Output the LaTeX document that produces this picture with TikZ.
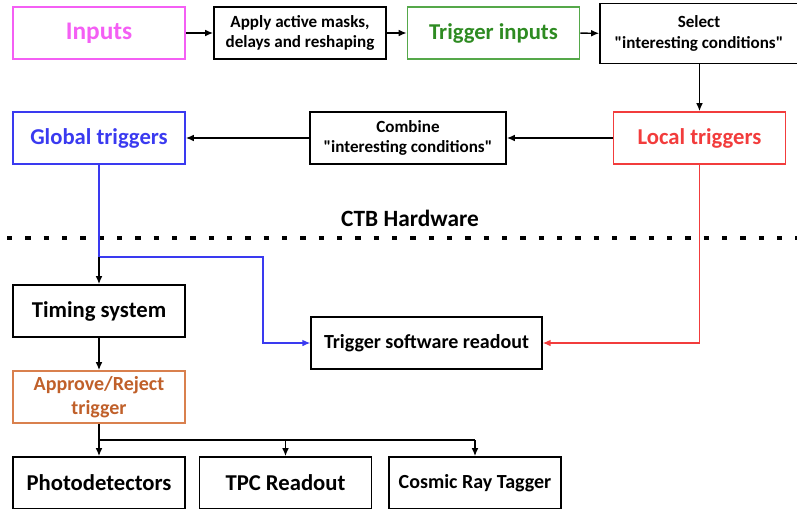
\documentclass[tikz,border=0pt]{standalone}
\usepackage{fontspec}
\setmainfont{Carlito}
\usetikzlibrary{positioning,arrows.meta,calc}
\definecolor{InMag}{HTML}{F45FF4}
\definecolor{InGreen}{HTML}{2E8B22}
\definecolor{BoxGreen}{HTML}{55A84A}
\definecolor{GlBlue}{HTML}{3A3AF0}
\definecolor{LoRed}{HTML}{F23C3C}
\definecolor{ApOrange}{HTML}{C0602A}
\definecolor{BoxOrange}{HTML}{D9804E}

\begin{document}
\begin{tikzpicture}[x=0.75pt, y=-0.75pt,
      box/.style={draw, rectangle, line width=1.2pt, minimum width=129pt,
                  minimum height=39pt, inner sep=2pt, align=center,
                  font=\fontsize{17}{20}\selectfont\bfseries},
      midbox/.style={box, font=\fontsize{15}{18}\selectfont\bfseries},
      smallbox/.style={box, font=\fontsize{12.8}{15.5}\selectfont\bfseries},
      ar/.style={-{Latex[length=6pt,width=5pt]}, line width=1.1pt},
    ]
      \useasboundingbox (0,0) rectangle (797,508);
      \clip (0,0) rectangle (797,508);
      \node[box, draw=InMag, text=InMag, font=\fontsize{19}{22}\selectfont\bfseries]
            (inputs) at (99,33) {Inputs};
      \node[smallbox] (apply) at (300,33) {Apply active masks,\\delays and reshaping};
      \node[box, draw=BoxGreen, text=InGreen] (tin) at (493.5,33) {Trigger inputs};
      \node[smallbox, minimum width=148.5pt, minimum height=45pt] (select) at (699,33.5)
            {Select\\\textquotedbl interesting conditions\textquotedbl};
      \node[box, draw=LoRed, text=LoRed] (local) at (699.5,138) {Local triggers};
      \node[smallbox, minimum width=147pt] (combine) at (408,138)
            {Combine\\\textquotedbl interesting conditions\textquotedbl};
      \node[box, draw=GlBlue, text=GlBlue] (global) at (99,138) {Global triggers};
      \draw[ar] (inputs)--(apply); \draw[ar] (apply)--(tin); \draw[ar] (tin)--(select);
      \draw[ar] (select.south -| local.north)--(local);
      \draw[ar] (local)--(combine); \draw[ar] (combine)--(global);
      \node[font=\fontsize{17.5}{20}\selectfont\bfseries] (ctb) at (410,218) {CTB Hardware};
      \coordinate (hwl) at (7,238); \coordinate (hwr) at (797,238);
      \draw[line width=3pt, dash pattern=on 4pt off 9.75pt] (hwl)--(hwr);
      \node[box] (timing) at (99,311) {Timing system};
      \node[midbox, minimum width=173pt] (readout) at (426.5,343) {Trigger software readout};
      \node[midbox, draw=BoxOrange, text=ApOrange] (approve) at (99,397)
            {Approve/Reject\\trigger};
      \node[box] (photo) at (99,483) {Photodetectors};
      \node[box] (tpc) at (285.5,483) {TPC Readout};
      \node[midbox] (crt) at (475,483) {Cosmic Ray Tagger};
      \coordinate (split) at (99,257);
      \coordinate (fork) at (99,440);
      \draw[GlBlue, line width=1pt] (global)--(split);
      \draw[ar, GlBlue, line width=1pt] (split)--(263,257)--(263,343)--(readout);
      \draw[ar] (split)--(timing);
      \draw[ar, LoRed, line width=1pt] (local.south)--(local.south |- readout)--(readout);
      \draw[ar] (timing)--(approve);
      \draw[line width=1.1pt] (approve)--(fork)--(fork -| crt.north);
      \draw[ar] (fork)--(photo);
      \draw[ar] (fork -| tpc.north)--(tpc);
      \draw[ar] (fork -| crt.north)--(crt);
    \end{tikzpicture}
\end{document}
